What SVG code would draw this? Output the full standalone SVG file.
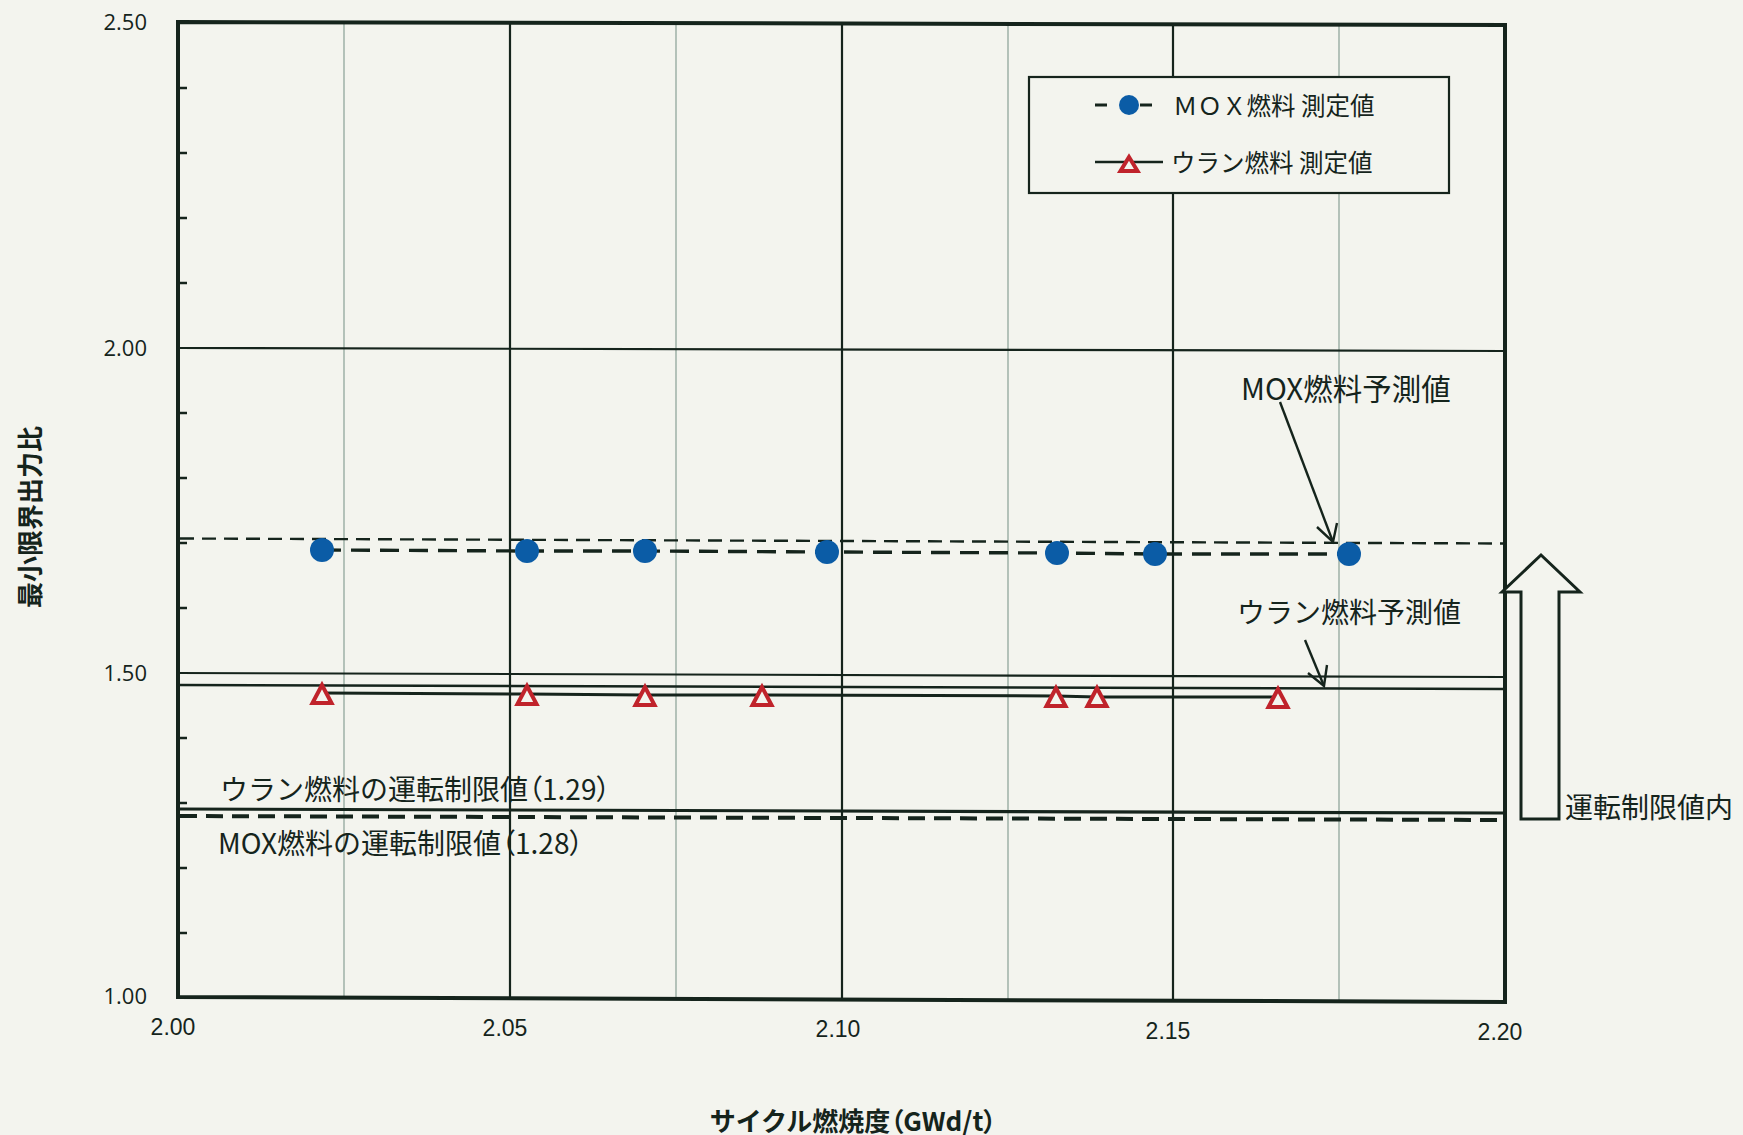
<svg xmlns="http://www.w3.org/2000/svg" width="1743" height="1135" viewBox="0 0 1743 1135">
<style>
.bg{fill:#f3f4ee}
.frame{fill:none;stroke:#15241c;stroke-width:4;stroke-linejoin:miter}
.major{stroke:#15241c;stroke-width:2.2;fill:none}
.minor{stroke:#a3b5ab;stroke-width:1.6;fill:none}
.tick{stroke:#15241c;stroke-width:2.5}
.ylab{font-family:"Open Sans","Liberation Sans",sans-serif;font-size:22px;fill:#15241c;text-anchor:end}
.xlab{font-family:"Liberation Sans",sans-serif;font-size:23px;fill:#15241c;text-anchor:middle}
.jp{font-family:"Noto Sans CJK JP","Noto Sans",sans-serif;font-size:28px;fill:#15241c}
.leg{font-family:"Noto Sans CJK JP","Noto Sans",sans-serif;font-size:24.5px;fill:#15241c}
.title{font-family:"Noto Sans CJK JP","Noto Sans",sans-serif;font-size:26px;font-weight:bold;fill:#15241c}
.palt{font-feature-settings:"palt"}
.mox{fill:#0b5ca6}
.uo2{fill:#f3f4ee;stroke:#c0232b;stroke-width:4;stroke-linejoin:miter}
.predM{stroke:#15241c;stroke-width:2.4;stroke-dasharray:14 8;fill:none}
.measM{stroke:#15241c;stroke-width:3.4;stroke-dasharray:19 10;fill:none}
.predU{stroke:#15241c;stroke-width:2.4;fill:none}
.measU{stroke:#15241c;stroke-width:3;fill:none}
.limU{stroke:#15241c;stroke-width:3.2;fill:none}
.limM{stroke:#15241c;stroke-width:4;stroke-dasharray:17 9;fill:none}
.conn{stroke:#15241c;stroke-width:2.4;fill:none;stroke-linejoin:miter}
</style>
<rect class="bg" x="0" y="0" width="1743" height="1135"/>

<g id="grid">
  <line class="minor" x1="344" y1="22" x2="344" y2="998"/>
  <line class="minor" x1="676" y1="23" x2="676" y2="999"/>
  <line class="minor" x1="1008" y1="24" x2="1008" y2="1000"/>
  <line class="minor" x1="1339" y1="25" x2="1339" y2="1001"/>
  <line class="major" x1="510" y1="22" x2="510" y2="998"/>
  <line class="major" x1="842" y1="23" x2="842" y2="999"/>
  <line class="major" x1="1173" y1="24" x2="1173" y2="1000"/>
  <line class="major" x1="178" y1="348" x2="1505" y2="351" stroke-width="2.6"/>
  <line class="major" x1="178" y1="673" x2="1505" y2="677" stroke-width="2.4"/>
  <g class="tick">
    <line x1="178" y1="88" x2="187" y2="88"/>
    <line x1="178" y1="153" x2="187" y2="153"/>
    <line x1="178" y1="218" x2="187" y2="218"/>
    <line x1="178" y1="283" x2="187" y2="283"/>
    <line x1="178" y1="413" x2="187" y2="413"/>
    <line x1="178" y1="478" x2="187" y2="478"/>
    <line x1="178" y1="543" x2="187" y2="543"/>
    <line x1="178" y1="608" x2="187" y2="608"/>
    <line x1="178" y1="738" x2="187" y2="738"/>
    <line x1="178" y1="803" x2="187" y2="803"/>
    <line x1="178" y1="868" x2="187" y2="868"/>
    <line x1="178" y1="933" x2="187" y2="933"/>
  </g>
  <path class="frame" d="M178,22 L1505,25 L1505,1002 L178,997 Z"/>
</g>

<g id="axis-labels">
  <text class="ylab" x="147" y="30">2.50</text>
  <text class="ylab" x="147" y="356">2.00</text>
  <text class="ylab" x="147" y="681">1.50</text>
  <text class="ylab" x="147" y="1004">1.00</text>
  <text class="xlab" x="173" y="1035">2.00</text>
  <text class="xlab" x="505" y="1036">2.05</text>
  <text class="xlab" x="838" y="1037">2.10</text>
  <text class="xlab" x="1168" y="1039">2.15</text>
  <text class="xlab" x="1500" y="1040">2.20</text>
  <text class="title" transform="translate(40,517) rotate(-90)" text-anchor="middle">最小限界出力比</text>
  <text class="title" x="853" y="1131" text-anchor="middle">サイクル燃焼度<tspan class="palt">（</tspan>GWd/t<tspan class="palt">）</tspan></text>
</g>

<g id="limit-lines">
  <line class="limU" x1="178" y1="809" x2="1505" y2="813"/>
  <line class="limM" x1="180" y1="816" x2="1505" y2="820"/>
  <text class="jp" x="220" y="800">ウラン燃料の運転制限値<tspan class="palt">（</tspan>1.29<tspan class="palt">）</tspan></text>
  <text class="jp" x="218" y="854">MOX燃料の運転制限値<tspan class="palt">（</tspan>1.28<tspan class="palt">）</tspan></text>
</g>

<g id="mox-prediction">
  <line class="predM" x1="180" y1="538.5" x2="1505" y2="543.5"/>
  <text class="jp" x="1241" y="400" style="font-size:29.5px">MOX燃料予測値</text>
</g>

<g id="uranium-prediction">
  <line class="predU" x1="178" y1="685" x2="1505" y2="689"/>
  <text class="jp" x="1237" y="623">ウラン燃料予測値</text>
</g>

<g id="mox-measured">
  <polyline class="measM" points="322,550 527,551 645,551 827,552 1057,553 1155,554 1349,554"/>
  <circle class="mox" cx="322" cy="550" r="12"/>
  <circle class="mox" cx="527" cy="551" r="12"/>
  <circle class="mox" cx="645" cy="551" r="12"/>
  <circle class="mox" cx="827" cy="552" r="12"/>
  <circle class="mox" cx="1057" cy="553" r="12"/>
  <circle class="mox" cx="1155" cy="554" r="12"/>
  <circle class="mox" cx="1349" cy="554" r="12"/>
</g>

<g id="uranium-measured">
  <polyline class="measU" points="322,693 527,694 645,695 762,695 1056,696 1097,697 1278,697"/>
  <polygon class="uo2" points="322,685 312.5,703 331.5,703"/>
  <polygon class="uo2" points="527,686 517.5,704 536.5,704"/>
  <polygon class="uo2" points="645,687 635.5,705 654.5,705"/>
  <polygon class="uo2" points="762,687 752.5,705 771.5,705"/>
  <polygon class="uo2" points="1056,688 1046.5,706 1065.5,706"/>
  <polygon class="uo2" points="1097,688 1087.5,706 1106.5,706"/>
  <polygon class="uo2" points="1278,689 1268.5,707 1287.5,707"/>
</g>

<g id="legend">
  <rect x="1029" y="77" width="420" height="116" fill="#f3f4ee" stroke="#15241c" stroke-width="2.2"/>
  <line x1="1095" y1="105" x2="1107" y2="105" stroke="#15241c" stroke-width="3"/>
  <line x1="1140" y1="105" x2="1152" y2="105" stroke="#15241c" stroke-width="3"/>
  <circle class="mox" cx="1129" cy="105" r="10"/>
  <text class="leg" x="1173" y="115">ＭＯＸ燃料 測定値</text>
  <line x1="1095" y1="162" x2="1163" y2="162" stroke="#15241c" stroke-width="2.5"/>
  <polygon class="uo2" points="1129,157 1120.5,171 1137.5,171"/>
  <text class="leg" x="1171" y="172">ウラン燃料 測定値</text>
</g>

<g id="connectors">
  <line class="conn" x1="1280" y1="402" x2="1333" y2="542"/>
  <path class="conn" d="M1317,527 L1333,542 L1337,523"/>
  <line class="conn" x1="1305" y1="640" x2="1324" y2="686"/>
  <path class="conn" d="M1308,673 L1324,686 L1327,665"/>
</g>

<g id="within-limit-arrow">
  <path d="M1521,819 L1521,592 L1502,592 L1541,555 L1580,592 L1559,592 L1559,819 Z" fill="#f3f4ee" stroke="#15241c" stroke-width="3" stroke-linejoin="miter"/>
  <text class="jp" x="1565" y="818">運転制限値内</text>
</g>
</svg>
